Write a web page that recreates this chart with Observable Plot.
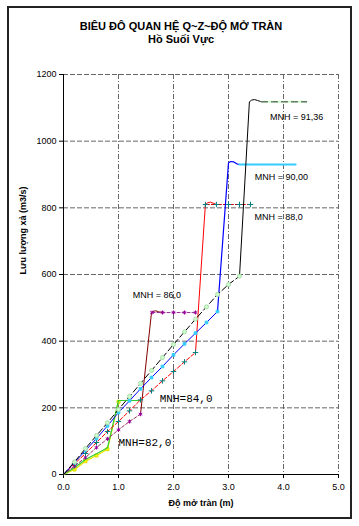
<!DOCTYPE html>
<html>
<head>
<meta charset="utf-8">
<script src="https://cdn.jsdelivr.net/npm/d3@7"></script>
<script src="https://cdn.jsdelivr.net/npm/@observablehq/plot@0.6"></script>
<style>
  body { margin: 0; background: #fff; }
  #wrap { position: relative; width: 359px; height: 526px; font-family: "Liberation Sans", Arial, sans-serif; overflow: hidden; }
  #wrap svg { position: absolute; left: 0; top: 0; }
  #border { position: absolute; left: 7px; top: 6px; width: 345px; height: 513px; border: 2px solid #222; box-sizing: border-box; pointer-events: none; }
  .title { position: absolute; left: 0; width: 362px; text-align: center; font-weight: bold; font-size: 11px; color: #000; line-height: 12px; }
</style>
</head>
<body>
<div id="wrap">
  <div id="border"></div>
  <div class="title" style="top:20px">BIÊU ĐÔ QUAN HỆ Q~Z~ĐỘ MỞ TRÀN</div>
  <div class="title" style="top:32.5px">Hồ Suối Vực</div>
</div>
<script>
// ---- data ----
const xTicks = [0, 1, 2, 3, 4, 5];
const yTicks = [0, 200, 400, 600, 800, 1000, 1200];

// MNH = 91,36
const h91_x = [0, 0.2, 0.4, 0.6, 0.8, 1.0, 1.2, 1.4, 1.6, 1.8, 2.0, 2.2, 2.4, 2.6, 2.8, 3.0, 3.2];
const h91_q = [0, 38, 78, 117, 155, 195, 234, 273, 312, 351, 390, 428, 466, 503, 540, 570, 595];
const h91_free_x = [3.2, 3.38, 3.42, 3.47, 3.53, 3.6];
const h91_free_q = [595, 1118, 1123, 1125, 1122, 1118];
const h91_flat_x = [3.6, 3.8, 4.0, 4.2, 4.42];
const h91_flat_q = [1118, 1118, 1118, 1118, 1118];

// MNH = 90,00
const h90_x = [0, 0.2, 0.4, 0.6, 0.8, 1.0, 1.2, 1.4, 1.6, 1.8, 2.0, 2.2, 2.4, 2.6, 2.8];
const h90_q = [0, 36, 72, 108, 146, 186, 221, 257, 291, 324, 359, 392, 424, 456, 489];
const h90_free_x = [2.8, 3.0, 3.04, 3.09, 3.15, 3.2];
const h90_free_q = [489, 935, 939, 938, 932, 930];
const h90_flat_x = [3.2, 3.4, 3.6, 3.8, 4.0, 4.22];
const h90_flat_q = [930, 930, 930, 930, 930, 930];

// MNH = 88,0
const h88_x = [0, 0.2, 0.4, 0.6, 0.8, 1.0, 1.2, 1.4, 1.6, 1.8, 2.0, 2.2, 2.4];
const h88_q = [0, 32, 63, 96, 129, 159, 191, 224, 251, 281, 309, 338, 366];
const h88_free_x = [2.4, 2.58, 2.62, 2.67, 2.72, 2.78];
const h88_free_q = [366, 810, 815, 817, 814, 810];
const h88_flat_x = [2.58, 2.78, 3.0, 3.2, 3.4];
const h88_flat_q = [810, 810, 810, 810, 810];

// MNH = 86,0
const h86_x = [0, 0.2, 0.4, 0.6, 0.8, 1.0, 1.2, 1.4];
const h86_q = [0, 25, 51, 81, 107, 134, 159, 181];
const h86_free_x = [1.4, 1.6, 1.64, 1.68, 1.73, 1.8];
const h86_free_q = [181, 486, 490, 491, 488, 486];
const h86_flat_x = [1.61, 1.8, 2.0, 2.2, 2.4];
const h86_flat_q = [486, 486, 486, 486, 486];

// MNH = 84,0
const h84_x = [0, 0.2, 0.4, 0.6, 0.8, 1.0, 1.2, 1.4];
const h84_q = [0, 20, 45, 62, 80, 222, 222, 222];

// MNH = 82,0
const h82_x = [0, 0.2, 0.4, 0.6, 0.8, 1.0];
const h82_q = [0, 15, 40, 57, 76, 218];

// labels
const sansLabels = ["MNH = 91,36", "MNH = 90,00", "MNH = 88,0", "MNH = 86,0"];
const sansLabelX = [4.24, 3.96, 3.91, 1.70];
const sansLabelQ = [1073, 891, 771, 539];
const monoLabels = ["MNH=84,0", "MNH=82,0"];
const monoLabelX = [2.23, 1.48];
const monoLabelQ = [227, 96];

// ---- helpers ----
const pts = (xs, qs) => xs.map((x, i) => ({x, q: qs[i]}));
const labelRows = (t, xs, qs) => t.map((s, i) => ({s, x: xs[i], q: qs[i]}));
const line = (xs, qs, o) => Plot.line(pts(xs, qs), {x: "x", y: "q", ...o});
const dots = (xs, qs, o) => Plot.dot(pts(xs, qs).filter(d => d.x > 0), {x: "x", y: "q", r: 1.9, strokeWidth: 1, ...o});

const chart = Plot.plot({
  width: 359,
  height: 526,
  marginLeft: 63,
  marginRight: 21,
  marginTop: 74,
  marginBottom: 52,
  style: {fontFamily: "'Liberation Sans', Arial, sans-serif", fontSize: "9px", background: "transparent", overflow: "visible"},
  x: {domain: [0, 5]},
  y: {domain: [0, 1200]},
  marks: [
    Plot.gridX(xTicks.filter(d => d > 0), {stroke: "#666", strokeOpacity: 1, strokeDasharray: "5,2,1,2"}),
    Plot.gridY(yTicks.filter(d => d > 0), {stroke: "#666", strokeOpacity: 1, strokeDasharray: "5,2"}),
    Plot.axisX(xTicks, {tickFormat: d3.format(".1f"), tickSize: 4, tickPadding: 5, label: null, fontSize: 9}),
    Plot.axisY(yTicks, {tickFormat: d => String(d), tickSize: 4, tickPadding: 3, label: null, fontSize: 9}),
    Plot.ruleX([0], {stroke: "#000"}),
    Plot.ruleY([0], {stroke: "#000"}),

    // 82
    line(h82_x, h82_q, {stroke: "#e8e800", strokeWidth: 1.3}),
    dots(h82_x, h82_q, {symbol: "square", fill: "#ffff00", stroke: "#dddd00", r: 1.7}),
    // 84
    line(h84_x, h84_q, {stroke: "#33cc33", strokeWidth: 1.2}),
    // 86
    line(h86_x, h86_q, {stroke: "#993366", strokeWidth: 1, strokeDasharray: "3,2"}),
    line(h86_free_x, h86_free_q, {stroke: "#800000", strokeWidth: 1}),
    line(h86_flat_x, h86_flat_q, {stroke: "#993399", strokeWidth: 1, strokeDasharray: "3,2"}),
    dots(h86_x, h86_q, {symbol: "asterisk", stroke: "#990099"}),
    dots(h86_flat_x, h86_flat_q, {symbol: "asterisk", stroke: "#990099"}),
    // 88
    line(h88_x, h88_q, {stroke: "#ff0000", strokeWidth: 1, strokeDasharray: "4,2"}),
    line(h88_free_x, h88_free_q, {stroke: "#ff0000", strokeWidth: 1}),
    line(h88_flat_x, h88_flat_q, {stroke: "#cc0000", strokeWidth: 1, strokeDasharray: "4,2"}),
    dots(h88_x, h88_q, {symbol: "plus", stroke: "#008080"}),
    dots(h88_flat_x, h88_flat_q, {symbol: "plus", stroke: "#008080"}),
    // 90
    line(h90_x, h90_q, {stroke: "#0000ff", strokeWidth: 1}),
    line(h90_free_x, h90_free_q, {stroke: "#0000ff", strokeWidth: 1.2}),
    line(h90_flat_x, h90_flat_q, {stroke: "#33ccff", strokeWidth: 2}),
    dots(h90_x, h90_q, {symbol: "square", fill: "#33ccff", stroke: "#33ccff", r: 1.5}),
    // 91.36
    line(h91_x, h91_q, {stroke: "#000", strokeWidth: 1, strokeDasharray: "6,3"}),
    line(h91_free_x, h91_free_q, {stroke: "#000", strokeWidth: 1}),
    line(h91_flat_x, h91_flat_q, {stroke: "#ccffcc", strokeWidth: 2}),
    line(h91_flat_x, h91_flat_q, {stroke: "#333", strokeWidth: 1, strokeDasharray: "6,4"}),
    dots(h91_x, h91_q, {symbol: "circle", fill: "#ccffcc", stroke: "#aaddaa", r: 2}),

    // labels
    Plot.text(labelRows(sansLabels, sansLabelX, sansLabelQ), {x: "x", y: "q", text: "s", fontSize: 9, fill: "#000"}),
    Plot.text(labelRows(monoLabels, monoLabelX, monoLabelQ), {x: "x", y: "q", text: "s", fontSize: 11, fontFamily: "'Liberation Mono', 'Courier New', monospace", fill: "#000"}),

    // axis titles
    Plot.text(["Độ mở tràn (m)"], {frameAnchor: "bottom", dy: 31, fontWeight: "bold", fontSize: 9}),
    Plot.text(["Lưu lượng xả (m3/s)"], {frameAnchor: "left", dx: -40, rotate: -90, fontWeight: "bold", fontSize: 9})
  ]
});
document.getElementById("wrap").prepend(chart);
</script>
</body>
</html>
